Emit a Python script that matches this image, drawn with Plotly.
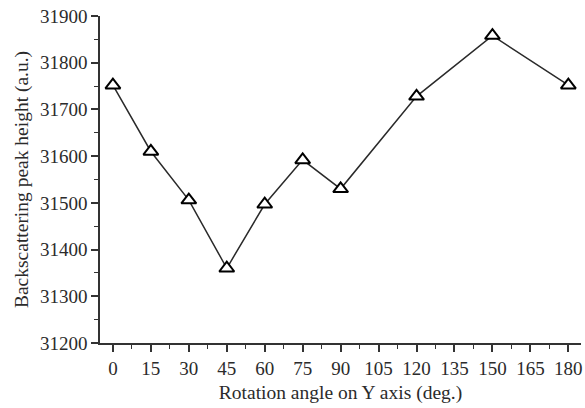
import plotly.graph_objects as go

angles = [0, 15, 30, 45, 60, 75, 90, 120, 150, 180]
peak_height = [31752, 31610, 31506, 31360, 31497, 31592, 31530, 31728, 31858, 31752]
x_ticks = [0, 15, 30, 45, 60, 75, 90, 105, 120, 135, 150, 165, 180]
y_ticks = [31200, 31300, 31400, 31500, 31600, 31700, 31800, 31900]

fig = go.Figure()
fig.add_trace(go.Scatter(
    x=angles, y=peak_height, mode="lines+markers",
    line=dict(color="#2a2a2a", width=1.5),
    marker=dict(symbol="triangle-up", size=13, color="white",
                line=dict(color="black", width=2)),
    showlegend=False, cliponaxis=False,
))

font = dict(family="Liberation Serif, Times New Roman, serif", size=19, color="#2b2b2b")
title_font = dict(family="Liberation Serif, Times New Roman, serif", size=19.5, color="#2b2b2b")
axis_common = dict(showline=True, linecolor="#333", linewidth=1.5, showgrid=False,
                   zeroline=False, ticks="outside", ticklen=7, tickwidth=1.5,
                   tickcolor="#333", tickfont=font, mirror=False)

fig.update_layout(
    width=585, height=408,
    margin=dict(l=100, r=2, t=16, b=65),
    paper_bgcolor="white", plot_bgcolor="white",
    font=font,
    xaxis=dict(range=[-5.1, 185], tickvals=x_ticks, ticktext=[str(v) for v in x_ticks],
               title=dict(text="Rotation angle on Y axis (deg.)", font=title_font, standoff=8),
               minor=dict(dtick=7.5, tick0=0, ticks="outside", ticklen=4, tickwidth=1.2, tickcolor="#333"),
               **axis_common),
    yaxis=dict(range=[31200, 31900], tickvals=y_ticks, ticktext=[str(v) for v in y_ticks],
               title=dict(text="Backscattering peak height (a.u.)", font=title_font, standoff=6),
               minor=dict(dtick=50, tick0=31200, ticks="outside", ticklen=4, tickwidth=1.2, tickcolor="#333"),
               **axis_common),
)

fig.write_html("out.html")
